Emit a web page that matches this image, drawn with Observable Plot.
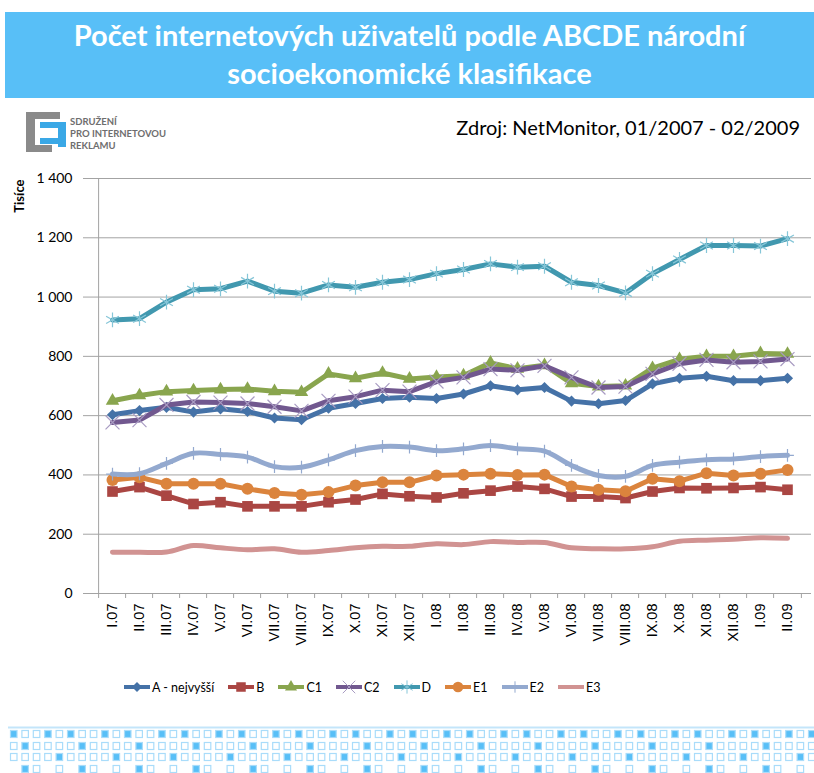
<!DOCTYPE html>
<html><head><meta charset="utf-8">
<script src="https://cdn.jsdelivr.net/npm/d3@7"></script>
<script src="https://cdn.jsdelivr.net/npm/@observablehq/plot@0.6"></script>
<style>
body{margin:0;background:#fff;width:814px;height:773px;position:relative;overflow:hidden;font-family:Lato,"Open Sans",sans-serif;}
#title{position:absolute;left:5px;top:12px;width:809px;height:86px;background:#58BFF7;color:#fff;font-weight:bold;font-size:29px;text-align:center;line-height:38px;padding-top:4px;box-sizing:border-box;}
#logo{position:absolute;left:0;top:100px;}
#src{position:absolute;right:14px;top:115px;font-size:20px;color:#000;white-space:nowrap;}
#chart{position:absolute;left:0;top:165px;}
#legend{position:absolute;left:123px;top:677px;height:20px;display:flex;align-items:center;gap:13px;font-size:12.5px;color:#000;}
#legend .it{display:flex;align-items:center;gap:1px;}
#pattern{position:absolute;left:0;top:720px;}
</style></head><body>
<div id="title">Počet internetových uživatelů podle ABCDE národní<br>socioekonomické klasifikace</div>
<svg id="logo" width="180" height="60">
  <rect x="26" y="12" width="34" height="7" fill="#8a8a8a"/>
  <rect x="26" y="12" width="9" height="40" fill="#8a8a8a"/>
  <rect x="26" y="45" width="26" height="7" fill="#8a8a8a"/>
  <rect x="40" y="22" width="26" height="6" fill="#3aa8e6"/>
  <rect x="58" y="22" width="8" height="25" fill="#3aa8e6"/>
  <rect x="40" y="38" width="26" height="6" fill="#3aa8e6"/>
  <text x="70" y="25" font-size="9.5" font-weight="bold" fill="#6e6e6e" font-family="Lato">SDRUŽENÍ</text>
  <text x="70" y="37" font-size="9.5" font-weight="bold" fill="#6e6e6e" font-family="Lato">PRO INTERNETOVOU</text>
  <text x="70" y="49" font-size="9.5" font-weight="bold" fill="#6e6e6e" font-family="Lato">REKLAMU</text>
</svg>
<div id="src">Zdroj: NetMonitor, 01/2007 - 02/2009</div>
<div id="chart"></div>
<div id="legend"></div>
<svg id="pattern" width="814" height="53"></svg>
<script>
const categories = ["I.07","II.07","III.07","IV.07","V.07","VI.07","VII.07","VIII.07","IX.07","X.07","XI.07","XII.07","I.08","II.08","III.08","IV.08","V.08","VI.08","VII.08","VIII.08","IX.08","X.08","XI.08","XII.08","I.09","II.09"];
const seriesNames = ["A - nejvyšší","B","C1","C2","D","E1","E2","E3"];
const valuesA  = [603,617,628,612,623,614,592,586,625,641,658,662,658,673,701,687,695,649,640,651,707,726,733,718,718,726];
const valuesB  = [344,359,330,302,308,294,294,294,308,317,336,328,324,338,347,361,353,327,327,322,344,356,355,356,359,350];
const valuesC1 = [650,668,681,685,688,690,682,679,741,726,744,724,730,735,778,758,770,709,698,701,760,790,800,800,810,808];
const valuesC2 = [577,585,636,646,644,641,630,616,650,664,686,681,715,729,757,753,768,729,695,698,741,775,788,780,783,791];
const valuesD  = [923,927,983,1025,1028,1054,1020,1013,1041,1033,1050,1059,1079,1093,1112,1101,1104,1050,1039,1014,1079,1127,1174,1174,1172,1197];
const valuesE1 = [383,392,370,370,370,353,339,333,342,364,375,375,398,401,404,400,401,361,350,345,387,379,406,398,404,417];
const valuesE2 = [403,404,439,473,469,460,428,426,451,482,496,494,482,488,499,488,480,432,398,395,432,443,451,454,462,466];
const valuesE3 = [139,139,140,162,154,148,151,139,145,154,159,159,168,165,175,172,172,154,151,151,158,176,180,183,188,186];
const yTicks = [0,200,400,600,800,1000,1200,1400];

const seriesValues = [valuesA,valuesB,valuesC1,valuesC2,valuesD,valuesE1,valuesE2,valuesE3];
const colors = ["#4572A7","#AA4643","#89A54E","#71588F","#4198AF","#DB843D","#93A9CF","#D19392"];
const markerStroke = [null,null,null,"#A89BC2","#86C6D8",null,"#93A9CF",null];
const symbols = ["diamond2","square","triangle","times","asterisk","circle","plus",null];
const symbolR = [5,6,5,6.4,7,6,4.2,0];
const curves = ["linear","linear","linear","linear","linear","linear","catmull-rom","catmull-rom"];

const W = 814, H = 510, mL = 88, mR = 3, mT = 13, mB = 82;
const step = (W - mL - mR) / categories.length;
const grid = "#a3a3a3";
const fmt = d => d >= 1000 ? String(d).replace(/(\d)(\d{3})$/, "$1 $2") : String(d);

const rows = seriesNames.map((name, s) => categories.map((c, i) => ({series: name, cat: c, value: seriesValues[s][i]})));

const marks = [
  Plot.gridY(yTicks, {stroke: grid, strokeOpacity: 1}),
  Plot.ruleY([0], {stroke: grid}),
  Plot.ruleX([categories[0]], {x: d => d, y1: 0, y2: 1400, dx: -step/2, stroke: grid}),
  Plot.ruleX(categories, {x: d => d, y1: 0, y2: 0, insetBottom: -5, dx: -step/2, stroke: grid}),
  Plot.ruleX([categories[categories.length-1]], {x: d => d, y1: 0, y2: 0, insetBottom: -5, dx: step/2, stroke: grid}),
  Plot.axisY(yTicks, {tickSize: 5, tickPadding: 11, tickFormat: fmt, fontSize: 14, stroke: grid, fill: "#000", label: null}),
  Plot.axisX({tickSize: 0, tickPadding: 10, tickRotate: -90, fontSize: 14.5, fill: "#000", label: null, fontFamily: "Liberation Sans"}),
  Plot.text(["Tisíce"], {text: d => d, frameAnchor: "top-left", rotate: -90, textAnchor: "end", dx: -74, dy: 1, fontWeight: "bold", fontSize: 13, fill: "#000"})
];
seriesNames.forEach((name, s) => {
  marks.push(Plot.line(rows[s], {x: "cat", y: "value", stroke: colors[s], strokeWidth: 5, curve: curves[s], strokeLinejoin: "round", strokeLinecap: "round"}));
  if (symbols[s]) {
    const filled = !markerStroke[s];
    marks.push(Plot.dot(rows[s], {x: "cat", y: "value", symbol: symbols[s], r: symbolR[s],
      fill: filled ? colors[s] : "none", stroke: filled ? "none" : markerStroke[s], strokeWidth: 1.2}));
  }
});

const chart = Plot.plot({
  width: W, height: H, marginLeft: mL, marginRight: mR, marginTop: mT, marginBottom: mB,
  style: {fontFamily: "Lato, sans-serif", fontSize: "13px", background: "transparent", color: "#000"},
  x: {type: "point", domain: categories, padding: 0.5, label: null},
  y: {domain: [0, 1400], label: null},
  marks
});
document.getElementById("chart").appendChild(chart);

// legend
const leg = document.getElementById("legend");
const symMap = {diamond2: d3.symbolDiamond2, square: d3.symbolSquare, triangle: d3.symbolTriangle, times: d3.symbolTimes, asterisk: d3.symbolAsterisk, circle: d3.symbolCircle, plus: d3.symbolPlus};
seriesNames.forEach((name, s) => {
  const it = document.createElement("div"); it.className = "it";
  const ns = "http://www.w3.org/2000/svg";
  const sv = document.createElementNS(ns, "svg"); sv.setAttribute("width", 28); sv.setAttribute("height", 16);
  const ln = document.createElementNS(ns, "line");
  ln.setAttribute("x1", 1); ln.setAttribute("x2", 27); ln.setAttribute("y1", 8); ln.setAttribute("y2", 8);
  ln.setAttribute("stroke", colors[s]); ln.setAttribute("stroke-width", 4); sv.appendChild(ln);
  if (symbols[s]) {
    const p = document.createElementNS(ns, "path");
    p.setAttribute("d", d3.symbol(symMap[symbols[s]], Math.PI * symbolR[s] * symbolR[s] * 0.8)());
    p.setAttribute("transform", "translate(14,8)");
    const filled = !markerStroke[s];
    p.setAttribute("fill", filled ? colors[s] : "none");
    p.setAttribute("stroke", filled ? "none" : markerStroke[s]);
    sv.appendChild(p);
  }
  it.appendChild(sv);
  const t = document.createElement("span"); t.textContent = name; it.appendChild(t);
  leg.appendChild(it);
});

// decorative footer pattern
const pat = d3.select("#pattern");
pat.append("line").attr("x1", 8).attr("x2", 814).attr("y1", 7.5).attr("y2", 7.5).attr("stroke", "#C3E5FA").attr("stroke-width", 2);
const rowsY = [10, 22, 33, 45];
for (let i = 0; i * 11.4 + 10 < 814; i++) {
  const x = 10 + i * 11.4, m = i % 5;
  const spec = [
    {show: true, fill: m === 0 || m === 3},
    {show: true, fill: m === 1},
    {show: true, fill: m === 4},
    {show: m === 1 || m === 2 || m === 4, fill: m === 1}
  ];
  spec.forEach((sp, r) => {
    if (!sp.show) return;
    pat.append("rect").attr("x", x + 0.5).attr("y", rowsY[r] + 0.5).attr("width", 6.5).attr("height", 7)
      .attr("fill", sp.fill ? "#58BFF7" : "#fff").attr("stroke", "#A9DCFA").attr("stroke-width", 1.2);
  });
}
</script>
</body></html>
